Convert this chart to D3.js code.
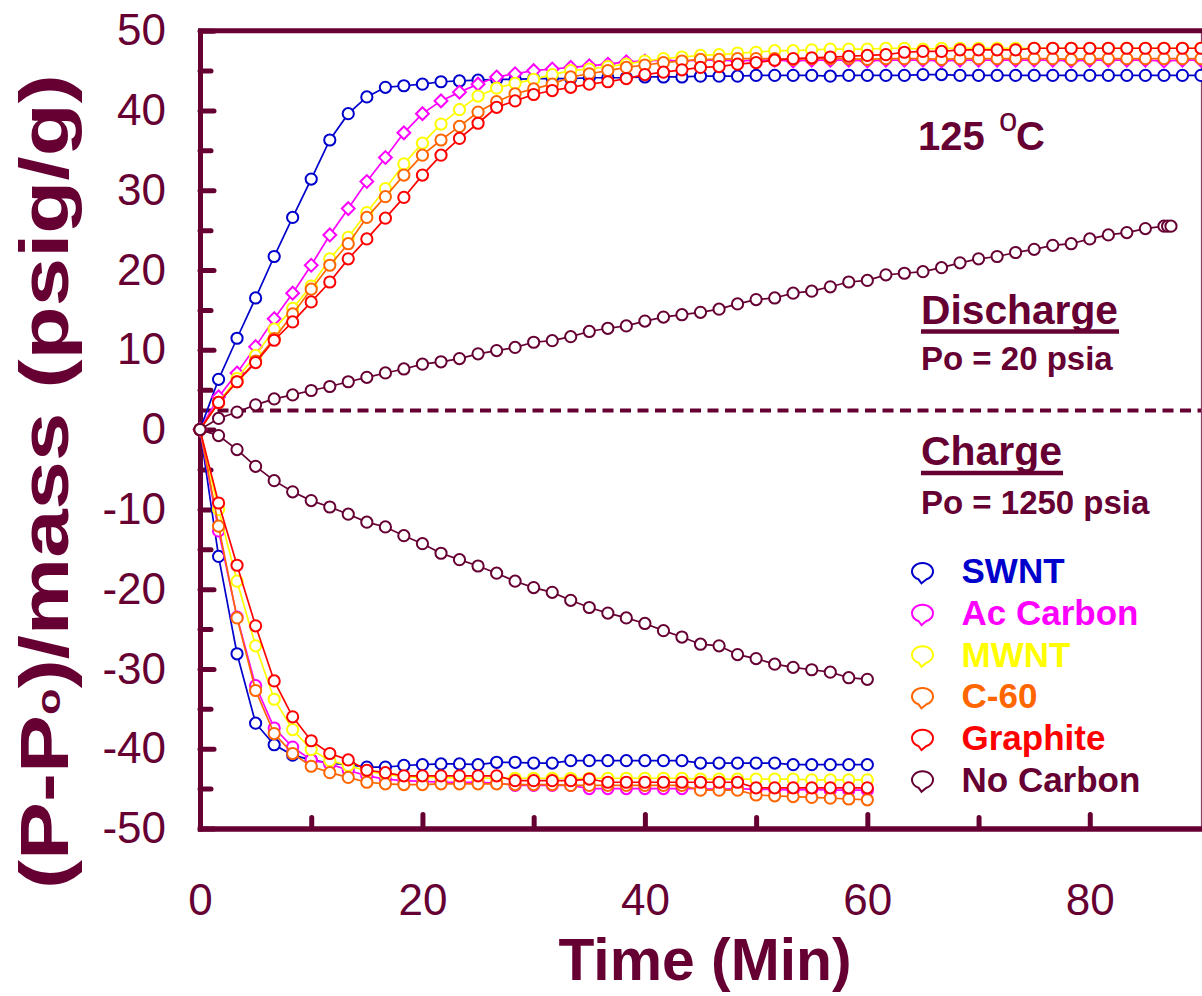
<!DOCTYPE html>
<html><head><meta charset="utf-8">
<script src="https://cdn.jsdelivr.net/npm/d3@7"></script>
<style>
html,body{margin:0;padding:0;background:#fff;}
svg{display:block;font-family:"Liberation Sans",Arial,sans-serif;}
</style></head><body>
<svg id="chart" width="1202" height="996"></svg>
<script>
// ---------------- data ----------------
const timeFull = [0,1.67,3.33,5,6.67,8.33,10,11.67,13.33,15,16.67,18.33,20,21.67,23.33,25,26.67,28.33,30,31.67,33.33,35,36.67,38.33,40,41.67,43.33,45,46.67,48.33,50,51.67,53.33,55,56.67,58.33,60,61.67,63.33,65,66.67,68.33,70,71.67,73.33,75,76.67,78.33,80,81.67,83.33,85,86.67,88.33,90];
const timeCharge = [0,1.67,3.33,5,6.67,8.33,10,11.67,13.33,15,16.67,18.33,20,21.67,23.33,25,26.67,28.33,30,31.67,33.33,35,36.67,38.33,40,41.67,43.33,45,46.67,48.33,50,51.67,53.33,55,56.67,58.33,60];
const timeNoCarbonDischarge = [0,1.67,3.33,5,6.67,8.33,10,11.67,13.33,15,16.67,18.33,20,21.67,23.33,25,26.67,28.33,30,31.67,33.33,35,36.67,38.33,40,41.67,43.33,45,46.67,48.33,50,51.67,53.33,55,56.67,58.33,60,61.67,63.33,65,66.67,68.33,70,71.67,73.33,75,76.67,78.33,80,81.67,83.33,85,86.67,87.0,87.3];

const seriesNames = ["SWNT","Ac Carbon","MWNT","C-60","Graphite","No Carbon"];
const seriesColors = ["#0000CC","#FF00FF","#FFFF00","#FF6600","#FF0000","#660033"];

// discharge (Po = 20 psia)
const dischargeSWNT = [0,6.3,11.45,16.5,21.7,26.6,31.4,36.3,39.6,41.7,42.9,43.1,43.3,43.6,43.7,
  43.8,43.9,43.9,44.0,44.0,44.0,44.1,44.1,44.1,44.2,
  44.2,44.2,44.3,44.3,44.3,44.4,44.4,44.4,44.4,44.3,
  44.4,44.4,44.4,44.4,44.5,44.5,44.4,44.4,44.4,44.4,
  44.4,44.4,44.4,44.4,44.4,44.4,44.4,44.4,44.4,44.4];
const dischargeAcCarbon = [0,4.1,7.1,10.4,13.9,17.1,20.6,24.4,27.7,31.1,34.1,37.2,39.6,41.2,42.3,
  43.3,44.2,44.6,45.0,45.2,45.4,45.6,45.8,46.1,46.2,
  46.3,46.2,46.3,46.3,46.2,46.3,46.3,46.2,46.3,46.3,
  46.3,46.2,46.3,46.3,46.3,46.2,46.3,46.3,46.3,46.3,
  46.3,46.3,46.2,46.3,46.3,46.3,46.3,46.2,46.3,46.3];
const dischargeMWNT = [0,3.4,6.4,9.3,12.6,15.2,18.0,21.4,24.1,27.2,30.2,33.3,35.9,38.3,40.1,
  41.8,42.8,43.4,43.9,44.5,45.0,45.2,45.5,45.8,46.2,
  46.5,46.7,46.9,47.0,47.2,47.3,47.5,47.5,47.6,47.7,
  47.7,47.7,47.8,47.8,47.7,47.8,47.8,47.8,47.8,47.8,
  47.8,47.8,47.8,47.8,47.8,47.8,47.8,47.8,47.8,47.8];
const dischargeC60 = [0,3.4,6.0,8.6,11.4,14.5,17.6,20.6,23.3,26.6,29.2,31.9,34.4,36.3,38.0,
  39.8,41.1,42.1,42.7,43.3,44.2,44.6,45.0,45.4,45.7,
  46.0,46.2,46.4,46.4,46.5,46.5,46.5,46.4,46.5,46.5,
  46.5,46.4,46.5,46.5,46.5,46.4,46.5,46.5,46.5,46.5,
  46.5,46.5,46.4,46.5,46.5,46.5,46.5,46.5,46.5,46.5];
const dischargeGraphite = [0,3.4,6.0,8.4,11.2,13.5,16.0,18.5,21.4,23.9,26.5,29.1,31.9,34.4,36.5,
  38.4,40.4,41.2,42.0,42.5,42.9,43.3,43.6,44.0,44.5,
  44.8,45.1,45.4,45.5,45.8,46.0,46.3,46.5,46.6,46.7,
  46.8,46.9,47.0,47.3,47.4,47.4,47.6,47.6,47.6,47.6,
  47.8,47.8,47.8,47.8,47.8,47.8,47.8,47.8,47.8,47.8];
const dischargeNoCarbon = [0,1.4,2.2,3.1,3.85,4.35,4.9,5.4,6.0,6.55,7.1,7.6,8.2,8.5,8.9,
  9.5,9.9,10.3,10.95,11.15,11.65,12.3,12.7,13.0,13.6,14.1,14.4,14.7,15.1,15.75,16.3,16.5,17.1,
  17.35,17.9,18.5,18.7,19.4,19.6,19.8,20.3,20.9,21.4,21.7,22.2,22.6,23.1,23.3,23.9,24.4,24.7,25.2,25.5,
  25.5,25.5];

// charge (Po = 1250 psia)
const chargeSWNT = [0,-15.9,-28.1,-36.8,-39.5,-40.8,-41.4,-41.8,-42.0,-42.3,-42.3,-42.1,-42.0,-41.9,
  -41.9,-42.0,-41.7,-41.7,-41.8,-41.8,-41.5,-41.5,-41.5,-41.5,-41.5,-41.5,-41.5,
  -41.8,-41.8,-41.8,-41.8,-41.8,-42.0,-42.0,-42.0,-42.0,-42.0];
const chargeAcCarbon = [0,-12.7,-23.5,-32.1,-37.4,-39.8,-41.4,-41.9,-42.7,-43.4,-43.8,-44.0,-44.1,-44.2,
  -44.2,-44.2,-44.3,-44.6,-44.6,-44.6,-44.6,-45.0,-45.0,-45.0,-45.0,-45.0,-45.0,
  -45.0,-45.1,-45.0,-45.1,-45.1,-45.2,-45.1,-45.2,-45.2,-45.2];
const chargeMWNT = [0,-10.0,-19.0,-27.1,-33.8,-37.6,-40.1,-41.5,-42.1,-42.8,-43.2,-43.5,-43.6,-43.6,
  -43.7,-43.7,-43.7,-43.7,-43.7,-43.7,-43.7,-43.7,-43.7,-43.7,-43.7,-43.7,-43.7,
  -43.8,-43.8,-43.8,-43.8,-43.8,-43.8,-43.9,-43.9,-43.9,-43.9];
const chargeC60 = [0,-12.1,-23.6,-32.7,-38.1,-40.6,-42.2,-43.0,-43.6,-44.2,-44.4,-44.5,-44.5,-44.4,
  -44.4,-44.4,-44.4,-44.5,-44.5,-44.5,-44.6,-44.6,-44.6,-44.6,-44.6,-44.6,-44.6,
  -45.2,-45.2,-45.2,-45.8,-45.9,-46.0,-46.1,-46.2,-46.3,-46.4];
const chargeGraphite = [0,-9.2,-17.0,-24.6,-31.5,-36.0,-39.0,-40.6,-41.4,-42.7,-43.0,-43.4,-43.4,-43.4,
  -43.4,-43.4,-43.4,-44.0,-44.0,-44.0,-44.0,-43.8,-44.2,-44.2,-44.2,-44.2,-44.2,
  -44.2,-44.2,-44.2,-44.9,-44.9,-44.9,-44.9,-44.9,-44.9,-44.9];
const chargeNoCarbon = [0,-0.75,-2.5,-4.6,-6.4,-7.8,-8.9,-9.7,-10.6,-11.6,-12.2,-13.3,-14.3,-15.5,-16.3,
  -17.1,-18.0,-19.0,-19.8,-20.4,-21.4,-22.3,-23.0,-23.6,-24.3,-25.2,-26.0,-26.9,-27.1,-28.2,
  -28.7,-29.4,-29.8,-30.1,-30.4,-31.1,-31.3];

const xTickValues = [0,20,40,60,80];
const xMinorTickValues = [10,30,50,70];
const yTickValues = [50,40,30,20,10,0,-10,-20,-30,-40,-50];
const yMinorTickValues = [45,35,25,15,5,-5,-15,-25,-35,-45];
const dividerLevel = 2.4;

// ---------------- drawing ----------------
const ink = "#660033";
const svg = d3.select("#chart");
const x = d3.scaleLinear().domain([0,90]).range([200,1201]);
const y = d3.scaleLinear().domain([-50,50]).range([828.5,30.7]);

// minor ticks
const gyMinor = svg.append("g").attr("transform","translate(200,0)")
  .call(d3.axisLeft(y).tickValues(yMinorTickValues).tickSizeInner(-11).tickSizeOuter(0).tickFormat(""));
gyMinor.select(".domain").remove();
const gxMinor = svg.append("g").attr("transform","translate(0,828.5)")
  .call(d3.axisBottom(x).tickValues(xMinorTickValues).tickSizeInner(-11).tickSizeOuter(0).tickFormat(""));
gxMinor.select(".domain").remove();

// major y axis
const gy = svg.append("g").attr("transform","translate(200,0)")
  .call(d3.axisLeft(y).tickValues(yTickValues).tickSizeInner(-14).tickSizeOuter(0).tickPadding(34).tickFormat(d => String(d)));
// major x axis
const gx = svg.append("g").attr("transform","translate(0,828.5)")
  .call(d3.axisBottom(x).tickValues(xTickValues).tickSizeInner(-14).tickSizeOuter(0).tickFormat(d => String(d)));
gx.selectAll(".tick text").attr("y",86.5).attr("dy",null);

[gy,gx,gyMinor,gxMinor].forEach(g => {
  g.attr("color",ink).attr("font-size",44).attr("font-family","'Liberation Sans',Arial,sans-serif");
  g.selectAll(".tick line").attr("stroke",ink).attr("stroke-width",5).attr("stroke-linecap","round");
  g.selectAll(".tick text").attr("fill",ink);
});
gy.select(".domain").attr("stroke",ink).attr("stroke-width",5).attr("stroke-linecap","square");
gx.select(".domain").attr("stroke",ink).attr("stroke-width",5.5).attr("stroke-linecap","square");

// frame top & right
svg.append("line").attr("x1",x(0)-2).attr("x2",1202).attr("y1",y(50)).attr("y2",y(50))
  .attr("stroke",ink).attr("stroke-width",5);
svg.append("line").attr("x1",x(90)+0.5).attr("x2",x(90)+0.5).attr("y1",y(50)).attr("y2",y(-50))
  .attr("stroke",ink).attr("stroke-width",1.2).attr("stroke-opacity",0.75);

// dashed divider
svg.append("line").attr("x1",x(0)).attr("x2",x(90)).attr("y1",y(dividerLevel)).attr("y2",y(dividerLevel))
  .attr("stroke",ink).attr("stroke-width",4).attr("stroke-dasharray","11,6.5");

// series
const line = d3.line().x(d => x(d[0])).y(d => y(d[1]));
const diamond = "M0,-6.4L6.4,0L0,6.4L-6.4,0Z";
function drawSeries(times, values, color, shape){
  const pts = times.map((t,i) => [t, values[i]]);
  const g = svg.append("g");
  g.append("path").datum(pts).attr("d",line).attr("fill","none").attr("stroke",color).attr("stroke-width",1.7);
  if (shape === "diamond") {
    g.selectAll("path.m").data(pts).join("path").attr("class","m").attr("d",diamond)
      .attr("transform", d => `translate(${x(d[0])},${y(d[1])})`)
      .attr("fill","#fff").attr("stroke",color).attr("stroke-width",2);
  } else {
    g.selectAll("circle").data(pts).join("circle")
      .attr("cx", d => x(d[0])).attr("cy", d => y(d[1])).attr("r",5.6)
      .attr("fill","#fff").attr("stroke",color).attr("stroke-width",2);
  }
}
const discharge = [dischargeSWNT,dischargeAcCarbon,dischargeMWNT,dischargeC60,dischargeGraphite,dischargeNoCarbon];
const charge = [chargeSWNT,chargeAcCarbon,chargeMWNT,chargeC60,chargeGraphite,chargeNoCarbon];
seriesNames.forEach((name,i) => {
  drawSeries(i === 5 ? timeNoCarbonDischarge : timeFull, discharge[i], seriesColors[i], i === 1 ? "diamond" : "circle");
  drawSeries(timeCharge, charge[i], seriesColors[i], "circle");
});

// annotations
const font = "'Liberation Sans',Arial,sans-serif";
const temp = svg.append("text").attr("y",150).attr("fill",ink)
  .attr("font-family",font).attr("font-weight","bold").attr("font-size",40);
temp.append("tspan").attr("x",918).text("125");
temp.append("tspan").attr("x",999).attr("font-size",33).attr("font-weight","normal").attr("dy",-19).text("o");
temp.append("tspan").attr("x",1016).attr("dy",19).text("C");

function heading(txt, baseline, len){
  svg.append("text").attr("x",921).attr("y",baseline).attr("fill",ink).attr("font-family",font)
    .attr("font-weight","bold").attr("font-size",40).attr("textLength",len).attr("lengthAdjust","spacingAndGlyphs").text(txt);
  svg.append("line").attr("x1",921).attr("x2",921+len+1).attr("y1",baseline+8).attr("y2",baseline+8)
    .attr("stroke",ink).attr("stroke-width",4.5);
}
heading("Discharge",323.5,197);
heading("Charge",465,141);
svg.append("text").attr("x",921).attr("y",370).attr("fill",ink).attr("font-family",font)
  .attr("font-weight","bold").attr("font-size",33).text("Po = 20 psia");
svg.append("text").attr("x",921).attr("y",513.5).attr("fill",ink).attr("font-family",font)
  .attr("font-weight","bold").attr("font-size",33).text("Po = 1250 psia");

// legend
const bubble = "M-4,6.5A10.5,8.5 0 1 1 4,6.5L-1,10.5Z";
const legendBaselines = [583.3,625,666.7,708.3,750,791.7];
const lg = svg.append("g").selectAll("g").data(seriesNames).join("g");
lg.append("path").attr("d",bubble)
  .attr("transform",(d,i) => `translate(922.5,${legendBaselines[i]-10.5})`)
  .attr("fill","#fff").attr("stroke",(d,i) => seriesColors[i]).attr("stroke-width",2);
lg.append("text").attr("x",961.5).attr("y",(d,i) => legendBaselines[i])
  .attr("fill",(d,i) => seriesColors[i]).attr("font-family",font).attr("font-weight","bold")
  .attr("font-size",35).text(d => d);

// axis titles
svg.append("text").attr("x",705).attr("y",980).attr("text-anchor","middle").attr("fill",ink)
  .attr("font-family",font).attr("font-weight","bold").attr("font-size",60)
  .attr("textLength",293).attr("lengthAdjust","spacingAndGlyphs").text("Time (Min)");
const yt = svg.append("text").attr("text-anchor","start")
  .attr("fill",ink).attr("font-family",font).attr("font-weight","bold").attr("font-size",68);
yt.append("tspan").text("(P-P");
yt.append("tspan").attr("font-size",34).attr("dy",-8).text("o");
yt.append("tspan").attr("dy",8).text(")/mass (psig/g)");
const natural = yt.node().getComputedTextLength() || 660;
const titleLen = 815;
yt.attr("transform",`translate(68,889) rotate(-90) scale(${titleLen/natural},1)`);
</script>
</body></html>
